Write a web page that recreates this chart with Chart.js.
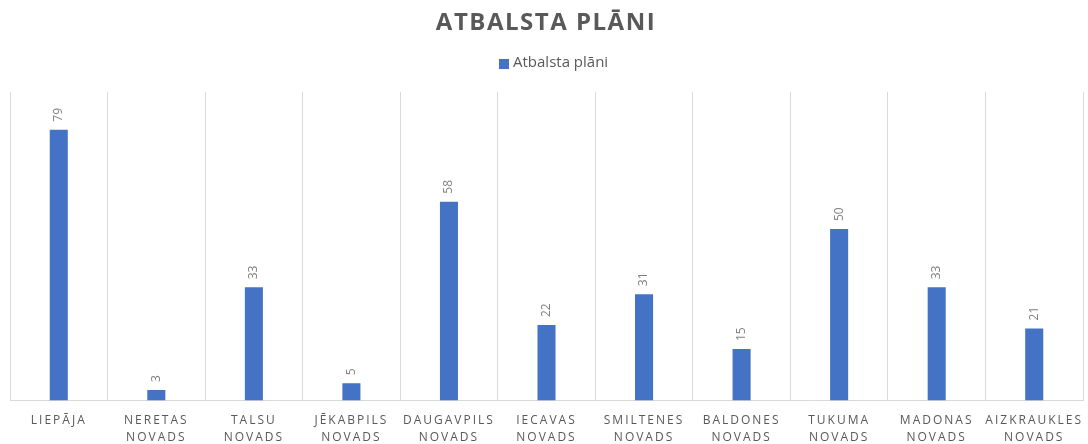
<!DOCTYPE html>
<html>
<head>
<meta charset="utf-8">
<script src="https://cdn.jsdelivr.net/npm/chart.js@4"></script>
<style>
  html, body { margin: 0; padding: 0; background: #ffffff; }
  #wrap { width: 1088px; height: 444px; position: relative; }
</style>
</head>
<body>
<div id="wrap"><canvas id="c"></canvas></div>
<script>
const chartTitle = 'ATBALSTA PLĀNI';
const seriesName = 'Atbalsta plāni';
const categories = [
  ['LIEPĀJA'],
  ['NERETAS', 'NOVADS'],
  ['TALSU', 'NOVADS'],
  ['JĒKABPILS', 'NOVADS'],
  ['DAUGAVPILS', 'NOVADS'],
  ['IECAVAS', 'NOVADS'],
  ['SMILTENES', 'NOVADS'],
  ['BALDONES', 'NOVADS'],
  ['TUKUMA', 'NOVADS'],
  ['MADONAS', 'NOVADS'],
  ['AIZKRAUKLES', 'NOVADS']
];
const values = [79, 3, 33, 5, 58, 22, 31, 15, 50, 33, 21];
const yMax = 90;
const barColor = '#4472c4';

class SpacedCategory extends Chart.CategoryScale {
  drawLabels(area) {
    const ctx = this.ctx;
    ctx.save();
    ctx.letterSpacing = '2px';
    super.drawLabels(area);
    ctx.restore();
  }
}
SpacedCategory.id = 'spacedCategory';
Chart.register(SpacedCategory);

const headerPlugin = {
  id: 'header',
  afterDraw(chart) {
    const ctx = chart.ctx;
    const cx = chart.width / 2;
    ctx.save();
    // title
    ctx.font = 'bold 24px "Open Sans"';
    ctx.letterSpacing = '1.5px';
    ctx.fillStyle = '#595959';
    ctx.textAlign = 'center';
    ctx.textBaseline = 'middle';
    ctx.fillText(chartTitle, cx + 2, 23);
    // legend
    ctx.letterSpacing = '0px';
    ctx.font = '15px "Open Sans"';
    const tw = ctx.measureText(seriesName).width;
    const total = 10 + 4 + tw;
    const x0 = cx - total / 2 + 10;
    ctx.fillStyle = barColor;
    ctx.fillRect(Math.round(x0), 59, 10, 10);
    ctx.fillStyle = '#595959';
    ctx.textAlign = 'left';
    ctx.fillText(seriesName, Math.round(x0) + 14, 63);
    ctx.restore();
  }
};

const valueLabels = {
  id: 'valueLabels',
  afterDatasetsDraw(chart) {
    const ctx = chart.ctx;
    const meta = chart.getDatasetMeta(0);
    ctx.save();
    ctx.font = '12px "Open Sans"';
    ctx.fillStyle = '#7f7f7f';
    meta.data.forEach((bar, i) => {
      ctx.save();
      ctx.translate(bar.x, bar.y - 8);
      ctx.rotate(-Math.PI / 2);
      ctx.textAlign = 'left';
      ctx.textBaseline = 'middle';
      ctx.fillText(String(chart.data.datasets[0].data[i]), 0, 0);
      ctx.restore();
    });
    ctx.restore();
  }
};

new Chart(document.getElementById('c'), {
  type: 'bar',
  data: {
    labels: categories,
    datasets: [{
      label: seriesName,
      data: values,
      backgroundColor: barColor,
      borderWidth: 0,
      barPercentage: 0.37,
      categoryPercentage: 0.5
    }]
  },
  options: {
    responsive: true,
    maintainAspectRatio: false,
    animation: false,
    layout: { padding: { top: 92, left: 10, right: 5, bottom: -14 } },
    plugins: {
      title: { display: false },
      tooltip: { enabled: false },
      legend: { display: false }
    },
    scales: {
      x: {
        type: 'spacedCategory',
        offset: true,
        grid: {
          display: true,
          offset: true,
          color: '#d9d9d9',
          lineWidth: 1,
          drawTicks: false
        },
        border: { display: true, color: '#d9d9d9' },
        ticks: {
          autoSkip: false,
          maxRotation: 0,
          minRotation: 0,
          padding: 12,
          color: '#595959',
          font: { family: '"Open Sans"', size: 12, lineHeight: 1.4 }
        }
      },
      y: {
        display: false,
        min: 0,
        max: yMax,
        grid: { display: false }
      }
    }
  },
  plugins: [headerPlugin, valueLabels]
});
</script>
</body>
</html>
